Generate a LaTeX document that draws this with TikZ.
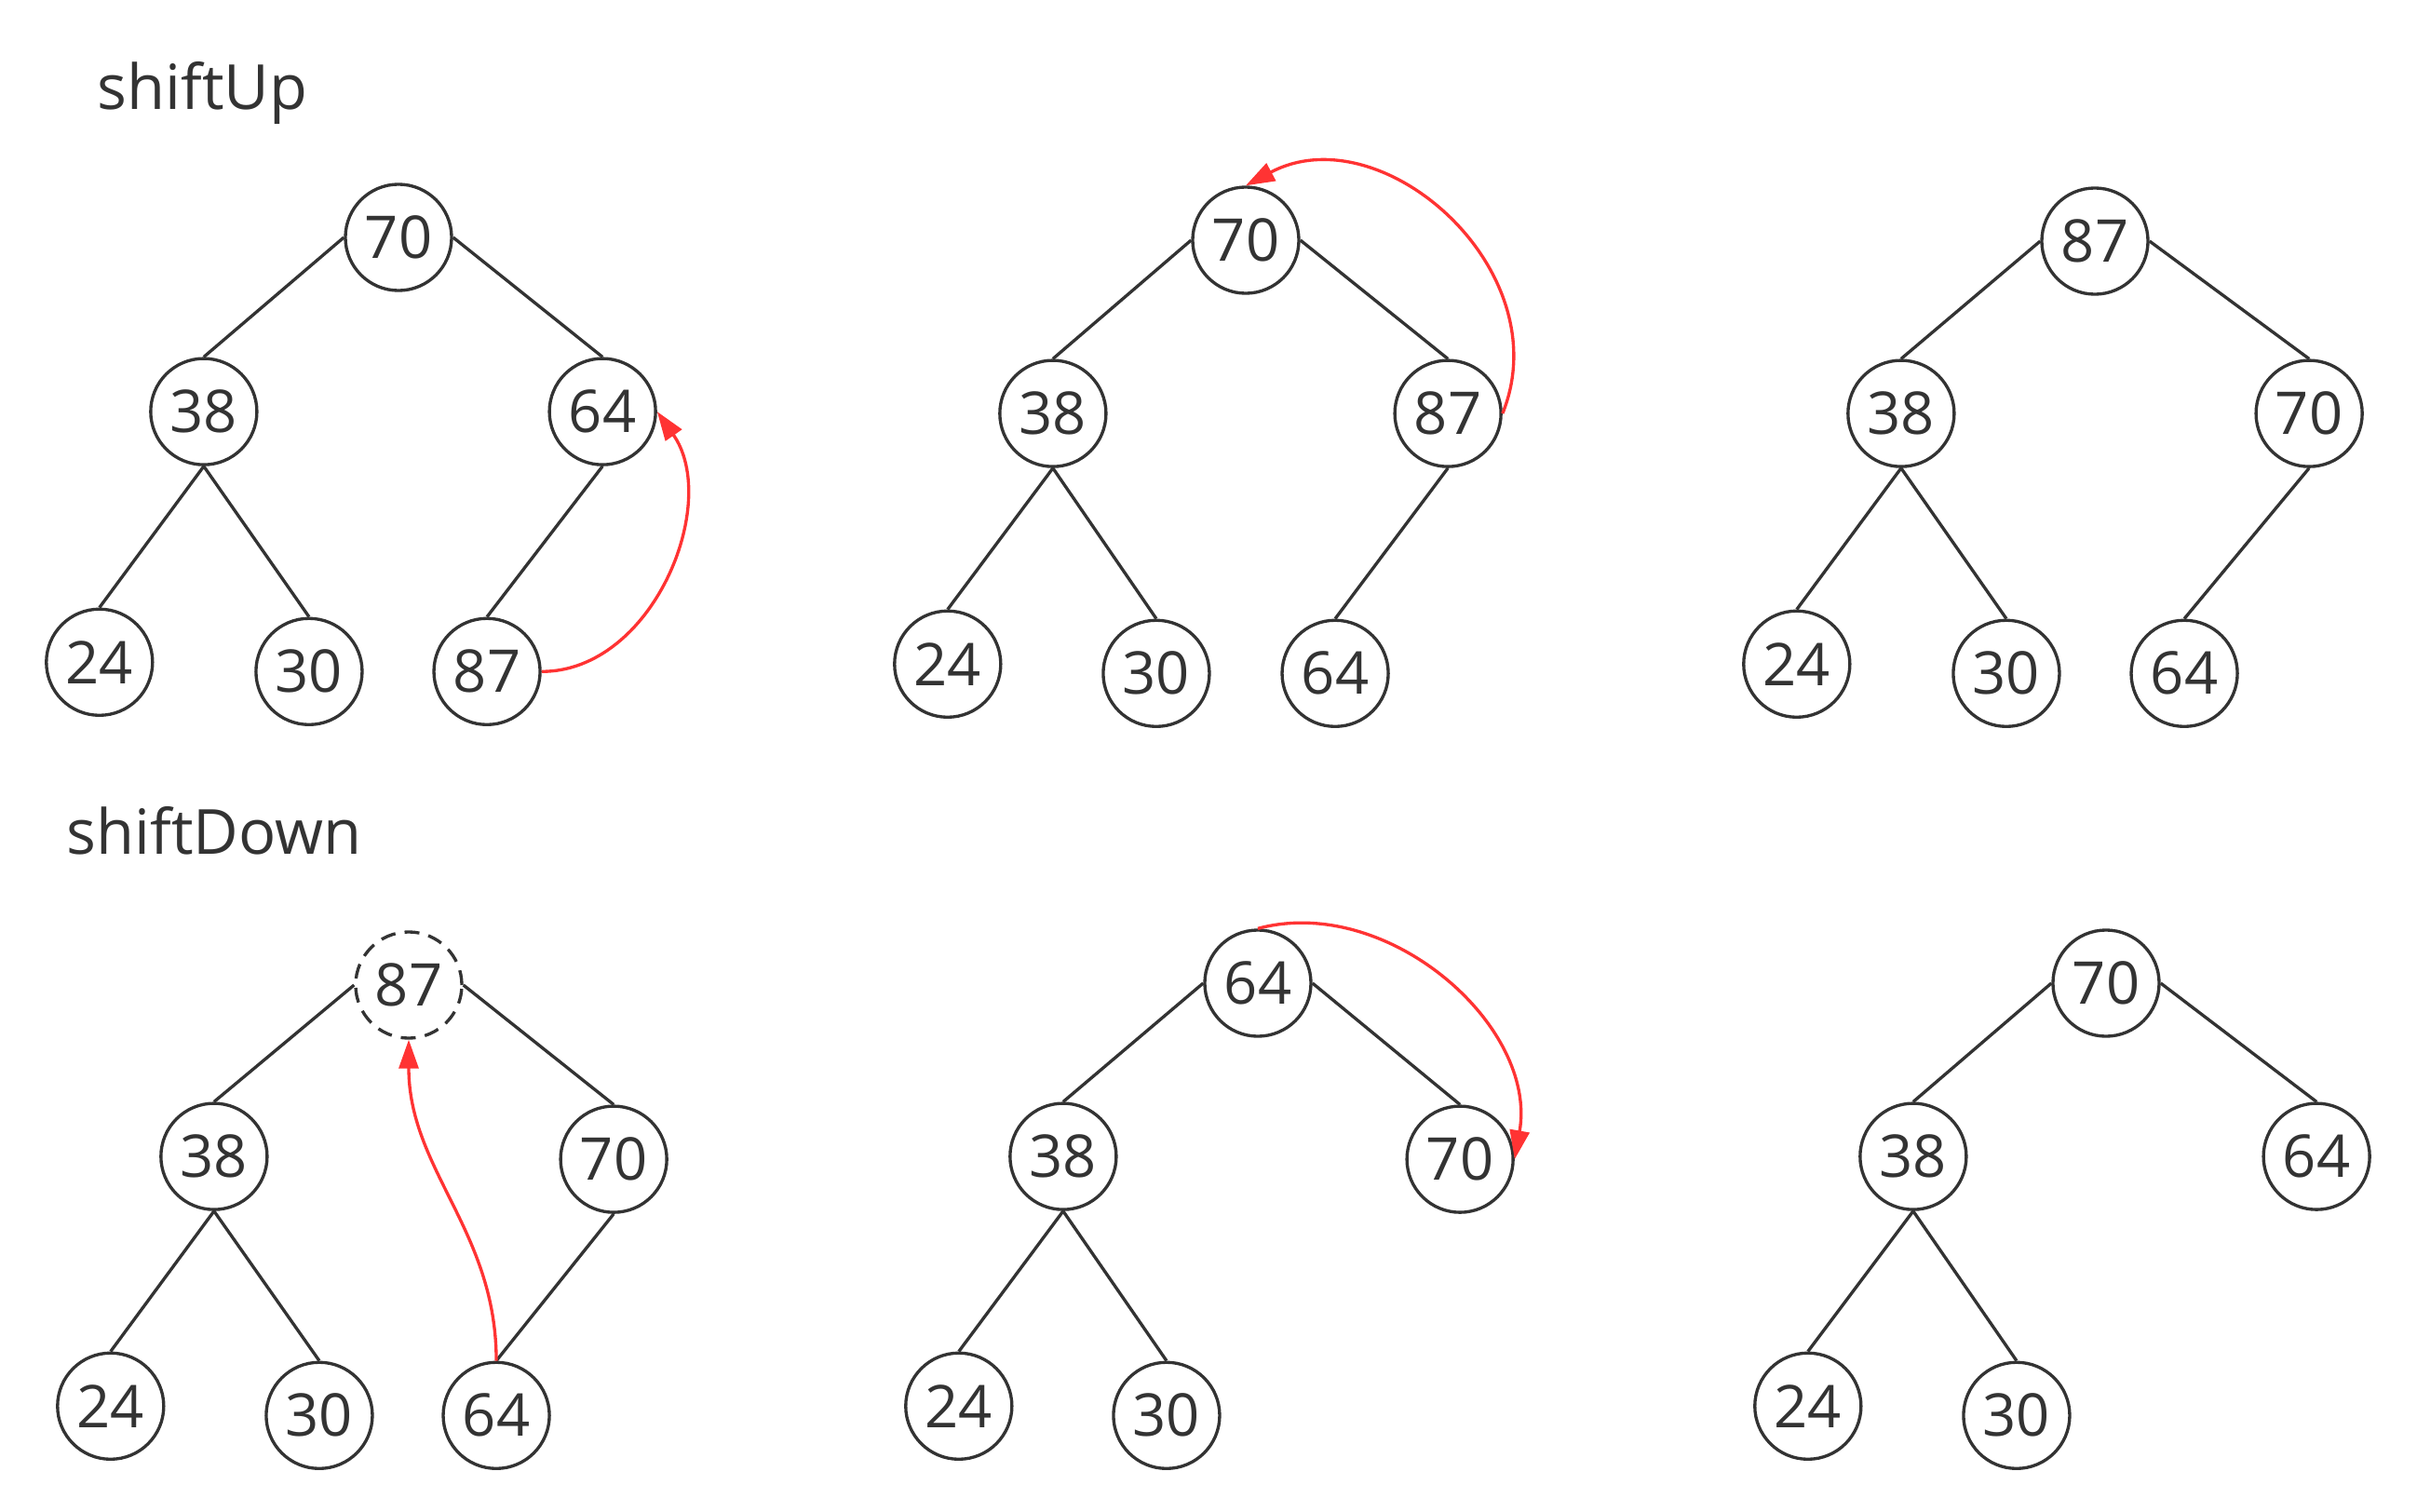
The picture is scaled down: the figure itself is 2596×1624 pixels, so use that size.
\documentclass[tikz,border=0pt]{standalone}
\usepackage{fontspec}
\setmainfont{Open Sans}
\usetikzlibrary{arrows.meta,positioning}
\usepackage{xcolor}
\definecolor{heapink}{RGB}{51,51,51}
\definecolor{heapred}{RGB}{255,51,51}
\newcommand\heapfont{\fontsize{18}{22}\selectfont}
\newcommand\headfont{\fontsize{19}{23}\selectfont}

\begin{document}
\begin{tikzpicture}[
    x=0.01cm, y=0.01cm, on grid,
    key/.style={circle, draw=heapink, line width=0.95pt, minimum size=1.14cm, inner sep=0pt, text=heapink, font=\heapfont},
    hole/.style={key, dash pattern=on 0.16cm off 0.1cm},
    title/.style={anchor=base west, inner sep=0pt, text=heapink, font=\headfont},
    link/.style={draw=heapink, line width=0.95pt},
    swap/.style={-{Triangle[length=0.31cm, width=0.21cm]}, draw=heapred, line width=0.95pt}
]
    \useasboundingbox (0,0) rectangle (2596,-1624);

    % Titles
    \node[title] (up_title) at (104,-117) {shiftUp};
    \node[title] (down_title) at (71,-917) {shiftDown};

    % shiftUp, step 1
    \node[key] (up1_root) at (428,-255) {70};
    \node[key] (up1_l) [below left=1.87cm and 2.09cm of up1_root] {38};
    \node[key] (up1_r) [below right=1.87cm and 2.19cm of up1_root] {64};
    \node[key] (up1_ll) [below left=2.69cm and 1.12cm of up1_l] {24};
    \node[key] (up1_lr) [below right=2.79cm and 1.13cm of up1_l] {30};
    \node[key] (up1_rl) [below left=2.79cm and 1.24cm of up1_r] {87};

    % shiftUp, step 2
    \node[key] (up2_root) at (1338,-258) {70};
    \node[key] (up2_l) [below left=1.86cm and 2.07cm of up2_root] {38};
    \node[key] (up2_r) [below right=1.86cm and 2.17cm of up2_root] {87};
    \node[key] (up2_ll) [below left=2.69cm and 1.13cm of up2_l] {24};
    \node[key] (up2_lr) [below right=2.79cm and 1.11cm of up2_l] {30};
    \node[key] (up2_rl) [below left=2.79cm and 1.21cm of up2_r] {64};

    % shiftUp, step 3
    \node[key] (up3_root) at (2250,-259) {87};
    \node[key] (up3_l) [below left=1.85cm and 2.08cm of up3_root] {38};
    \node[key] (up3_r) [below right=1.85cm and 2.30cm of up3_root] {70};
    \node[key] (up3_ll) [below left=2.69cm and 1.12cm of up3_l] {24};
    \node[key] (up3_lr) [below right=2.79cm and 1.13cm of up3_l] {30};
    \node[key] (up3_rl) [below left=2.79cm and 1.34cm of up3_r] {64};

    % shiftDown, step 1
    \node[hole] (dn1_root) at (439,-1058) {87};
    \node[key] (dn1_l) [below left=1.84cm and 2.09cm of dn1_root] {38};
    \node[key] (dn1_r) [below right=1.87cm and 2.20cm of dn1_root] {70};
    \node[key] (dn1_ll) [below left=2.68cm and 1.11cm of dn1_l] {24};
    \node[key] (dn1_lr) [below right=2.78cm and 1.13cm of dn1_l] {30};
    \node[key] (dn1_rl) [below left=2.75cm and 1.26cm of dn1_r] {64};

    % shiftDown, step 2
    \node[key] (dn2_root) at (1351,-1056) {64};
    \node[key] (dn2_l) [below left=1.86cm and 2.09cm of dn2_root] {38};
    \node[key] (dn2_r) [below right=1.89cm and 2.17cm of dn2_root] {70};
    \node[key] (dn2_ll) [below left=2.68cm and 1.12cm of dn2_l] {24};
    \node[key] (dn2_lr) [below right=2.78cm and 1.11cm of dn2_l] {30};

    % shiftDown, step 3
    \node[key] (dn3_root) at (2262,-1056) {70};
    \node[key] (dn3_l) [below left=1.86cm and 2.07cm of dn3_root] {38};
    \node[key] (dn3_r) [below right=1.86cm and 2.26cm of dn3_root] {64};
    \node[key] (dn3_ll) [below left=2.68cm and 1.13cm of dn3_l] {24};
    \node[key] (dn3_lr) [below right=2.78cm and 1.11cm of dn3_l] {30};

    % Tree edges
    \draw[link] (up1_root.west) -- (up1_l.north);
    \draw[link] (up1_root.east) -- (up1_r.north);
    \draw[link] (up1_l.south) -- (up1_ll.north);
    \draw[link] (up1_l.south) -- (up1_lr.north);
    \draw[link] (up1_r.south) -- (up1_rl.north);

    \draw[link] (up2_root.west) -- (up2_l.north);
    \draw[link] (up2_root.east) -- (up2_r.north);
    \draw[link] (up2_l.south) -- (up2_ll.north);
    \draw[link] (up2_l.south) -- (up2_lr.north);
    \draw[link] (up2_r.south) -- (up2_rl.north);

    \draw[link] (up3_root.west) -- (up3_l.north);
    \draw[link] (up3_root.east) -- (up3_r.north);
    \draw[link] (up3_l.south) -- (up3_ll.north);
    \draw[link] (up3_l.south) -- (up3_lr.north);
    \draw[link] (up3_r.south) -- (up3_rl.north);

    \draw[link] (dn1_root.west) -- (dn1_l.north);
    \draw[link] (dn1_root.east) -- (dn1_r.north);
    \draw[link] (dn1_l.south) -- (dn1_ll.north);
    \draw[link] (dn1_l.south) -- (dn1_lr.north);
    \draw[link] (dn1_r.south) -- (dn1_rl.north);

    \draw[link] (dn2_root.west) -- (dn2_l.north);
    \draw[link] (dn2_root.east) -- (dn2_r.north);
    \draw[link] (dn2_l.south) -- (dn2_ll.north);
    \draw[link] (dn2_l.south) -- (dn2_lr.north);

    \draw[link] (dn3_root.west) -- (dn3_l.north);
    \draw[link] (dn3_root.east) -- (dn3_r.north);
    \draw[link] (dn3_l.south) -- (dn3_ll.north);
    \draw[link] (dn3_l.south) -- (dn3_lr.north);

    % Swap arrows
    \draw[swap] (up1_rl.east) to[out=0, in=-55] (up1_r.east);
    \draw[swap] (up2_r.east) to[out=68, in=28, looseness=1.15] (up2_root.north);
    \draw[swap] (dn1_rl.north) to[out=90, in=-90] (dn1_root.south);
    \draw[swap] (dn2_root.north) to[out=15, in=80] (dn2_r.east);
\end{tikzpicture}
\end{document}
